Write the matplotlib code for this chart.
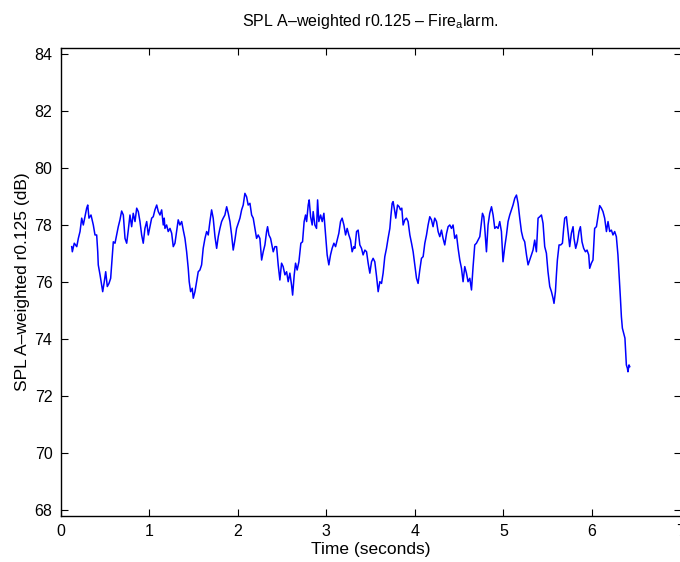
import matplotlib
matplotlib.use("Agg")
import matplotlib.pyplot as plt

plt.rcParams['font.family'] = ['Liberation Sans', 'DejaVu Sans']
plt.rcParams['mathtext.fontset'] = 'custom'
plt.rcParams['mathtext.rm'] = 'Liberation Sans'
plt.rcParams['mathtext.it'] = 'Liberation Sans'

title = 'SPL A\u2013weighted r0.125 \u2013 Fire$_{\\rm a}$larm.'
xlabel = 'Time (seconds)'
ylabel = 'SPL A\u2013weighted r0.125 (dB)'
xticks = [0, 1, 2, 3, 4, 5, 6, 7]
yticks = [68, 70, 72, 74, 76, 78, 80, 82, 84]

time_s = [
    0.124, 0.131, 0.153, 0.181, 0.199, 0.218, 0.237, 0.255, 0.274, 0.293, 0.305, 0.319, 0.342, 0.368, 0.387,
    0.406, 0.418, 0.424, 0.444, 0.463, 0.474, 0.492, 0.508, 0.526, 0.545, 0.564, 0.576, 0.594, 0.613, 0.632,
    0.650, 0.669, 0.688, 0.707, 0.726, 0.745, 0.763, 0.782, 0.801, 0.819, 0.839, 0.858, 0.876, 0.895, 0.914,
    0.932, 0.951, 0.971, 0.989, 1.008, 1.027, 1.045, 1.064, 1.084, 1.102, 1.121, 1.140, 1.158, 1.169,
    1.177, 1.196, 1.214, 1.234, 1.253, 1.271, 1.290, 1.309, 1.327, 1.346, 1.366, 1.384, 1.403, 1.422, 1.440,
    1.451, 1.467, 1.485, 1.497, 1.516, 1.535, 1.553, 1.572, 1.591, 1.609, 1.629, 1.648, 1.666, 1.685, 1.704,
    1.722, 1.742, 1.761, 1.779, 1.798, 1.817, 1.835, 1.854, 1.874, 1.892, 1.911, 1.930, 1.948, 1.967, 1.986,
    2.005, 2.024, 2.043, 2.061, 2.080, 2.099, 2.117, 2.137, 2.156, 2.174, 2.193, 2.212, 2.230,
    2.249, 2.269, 2.287, 2.306, 2.325, 2.336, 2.351, 2.370, 2.381, 2.400, 2.419, 2.438, 2.456, 2.475, 2.494,
    2.512, 2.532, 2.551, 2.569, 2.588, 2.607, 2.619, 2.637, 2.652, 2.670, 2.690, 2.712, 2.731, 2.749, 2.765,
    2.777, 2.795, 2.806, 2.822, 2.840, 2.851, 2.870, 2.889, 2.901, 2.915, 2.935, 2.953, 2.972, 2.991, 3.009,
    3.028, 3.047, 3.065, 3.085, 3.104, 3.122, 3.141, 3.160, 3.178, 3.198, 3.217, 3.235, 3.254, 3.273, 3.291,
    3.310,
    3.322, 3.341, 3.359, 3.378, 3.397, 3.415, 3.435, 3.454, 3.472, 3.491, 3.510, 3.528, 3.547, 3.567, 3.585,
    3.604, 3.623, 3.641, 3.660, 3.679, 3.697, 3.717, 3.728, 3.743, 3.754, 3.773, 3.784, 3.804, 3.822, 3.837,
    3.852, 3.867, 3.886, 3.905, 3.923, 3.943, 3.962, 3.980, 3.999, 4.018, 4.036, 4.055, 4.074, 4.093, 4.112,
    4.131, 4.149, 4.168, 4.187, 4.205, 4.224, 4.244, 4.262, 4.281, 4.300, 4.318, 4.337, 4.357, 4.375,
    4.394, 4.413, 4.431, 4.450, 4.470, 4.488, 4.507, 4.526, 4.544, 4.563, 4.582, 4.600, 4.620, 4.639, 4.657,
    4.676, 4.695, 4.713, 4.733, 4.752, 4.763, 4.778, 4.789, 4.808, 4.826, 4.845, 4.865, 4.883, 4.902, 4.921,
    4.939, 4.958, 4.977, 4.995, 5.015, 5.034, 5.052, 5.071, 5.090, 5.108, 5.128, 5.147, 5.165, 5.184, 5.203,
    5.221, 5.240, 5.260, 5.278, 5.297, 5.316, 5.334, 5.353, 5.372, 5.391, 5.410, 5.429, 5.447,
    5.466, 5.485, 5.503, 5.523, 5.542, 5.560, 5.571, 5.587, 5.598, 5.609, 5.628, 5.647, 5.666, 5.680, 5.692,
    5.711, 5.729, 5.748, 5.767, 5.786, 5.797, 5.816, 5.835, 5.853, 5.869, 5.887, 5.906, 5.926, 5.944, 5.963,
    5.974, 5.993, 6.011, 6.030, 6.050, 6.068, 6.087, 6.106, 6.124, 6.143, 6.163, 6.181, 6.200, 6.219, 6.237,
    6.256, 6.275, 6.293, 6.305, 6.321, 6.332, 6.343, 6.358, 6.372, 6.380, 6.388, 6.400, 6.406, 6.418, 6.426,
]

spl_db = [
    77.24, 77.06, 77.36, 77.24, 77.53, 77.77, 78.24, 78.00, 78.29, 78.59, 78.70, 78.24, 78.35, 78.00, 77.65,
    77.65, 77.06, 76.60, 76.25, 75.89, 75.66, 76.01, 76.36, 75.84, 75.95, 76.13, 76.66, 77.41, 77.36, 77.65,
    77.94, 78.18, 78.49, 78.35, 77.53, 77.36, 77.82, 78.35, 77.94, 78.41, 78.12, 78.59, 78.47, 78.12, 77.65,
    77.36, 77.88, 78.12, 77.65, 77.94, 78.24, 78.29, 78.53, 78.70, 78.47, 78.35, 78.53, 78.00, 78.24,
    77.88, 78.00, 77.77, 77.88, 77.71, 77.24, 77.36, 77.77, 78.18, 78.00, 78.12, 77.82, 77.53, 77.06, 76.48,
    76.01, 75.66, 75.78, 75.43, 75.66, 76.01, 76.36, 76.42, 76.60, 77.18, 77.53, 77.77, 77.65, 78.12, 78.53,
    78.24, 77.59, 77.18, 77.59, 77.88, 78.12, 78.24, 78.35, 78.64, 78.41, 78.12, 77.65, 77.12, 77.47, 77.88,
    78.06, 78.24, 78.53, 78.70, 79.11, 78.99, 78.70, 78.76, 78.35, 78.24, 77.88, 77.53, 77.65,
    77.53, 76.77, 77.06, 77.30, 77.77, 77.94, 77.65, 77.53, 77.36, 77.06, 77.24, 77.24, 76.60, 76.07, 76.66,
    76.54, 76.25, 76.36, 76.01, 76.31, 75.89, 75.54, 76.25, 76.66, 76.42, 76.71, 77.36, 77.41, 78.12, 78.35,
    78.12, 78.70, 78.88, 78.29, 78.00, 78.47, 78.00, 77.88, 78.88, 78.12, 78.35, 78.12, 78.41, 77.65, 76.95,
    76.60, 76.95, 77.18, 77.36, 77.24, 77.47, 77.71, 78.12, 78.24, 78.00, 77.65, 77.88, 77.65, 77.47, 77.06,
    77.24,
    77.18, 77.77, 77.82, 77.30, 77.18, 76.95, 77.12, 77.06, 76.66, 76.31, 76.71, 76.83, 76.71, 76.19, 75.66,
    76.01, 75.95, 76.31, 76.89, 77.18, 77.53, 77.88, 78.29, 78.76, 78.82, 78.47, 78.24, 78.70, 78.64, 78.53,
    78.59, 78.00, 78.18, 78.24, 78.12, 77.65, 77.36, 77.06, 76.60, 76.13, 75.95, 76.42, 76.83, 76.89, 77.36,
    77.65, 78.00, 78.29, 78.18, 77.94, 78.24, 78.12, 77.77, 77.59, 77.82, 77.53, 77.30, 77.70, 77.94,
    78.00, 77.88, 78.00, 77.53, 77.65, 77.18, 76.77, 76.48, 76.01, 76.54, 76.31, 76.01, 76.13, 75.72, 76.54,
    77.30, 77.36, 77.47, 77.59, 78.12, 78.41, 78.29, 77.88, 77.06, 78.00, 78.41, 78.64, 78.35, 77.88, 77.94,
    77.88, 78.12, 77.77, 76.71, 77.24, 77.65, 78.12, 78.35, 78.53, 78.70, 78.94, 79.05, 78.76, 78.24, 77.77,
    77.53, 77.41, 76.95, 76.60, 76.77, 76.95, 77.12, 77.47, 77.06, 78.24, 78.29, 78.35, 78.06,
    77.24, 77.01, 76.36, 75.84, 75.66, 75.43, 75.25, 75.66, 76.25, 76.77, 77.30, 77.30, 77.36, 77.88, 78.24,
    78.29, 77.77, 77.24, 77.71, 77.94, 77.53, 77.18, 77.41, 77.77, 77.94, 77.41, 77.18, 77.06, 77.12, 76.95,
    76.48, 76.66, 76.77, 77.88, 77.94, 78.29, 78.68, 78.59, 78.47, 78.24, 77.77, 78.12, 77.77, 77.82, 77.65,
    77.77, 77.59, 76.95, 76.31, 75.43, 74.78, 74.38, 74.20, 74.03, 73.56, 73.09, 72.97, 72.85, 73.09, 73.03,
]

fig = plt.figure(figsize=(6.8, 5.62), dpi=100)
ax = fig.add_axes([0.0893, 0.0819, 0.9115, 0.8327])
ax.plot(time_s, spl_db, color='#0000ff', linewidth=1.1)

ax.set_xlim(0, 7)
ax.set_ylim(67.79, 84.21)
ax.set_xticks(xticks)
ax.set_yticks(yticks)
ax.tick_params(direction='in', length=5, width=0.8, top=True, right=True,
               labelsize=11.5, colors='black', pad=6)
for s in ax.spines.values():
    s.set_linewidth(1.0)

ax.set_title(title, fontsize=11.5, pad=16)
ax.set_xlabel(xlabel, fontsize=12.5, labelpad=2)
ax.set_ylabel(ylabel, fontsize=12.5, labelpad=3)

fig.savefig('out.png', dpi=100)
